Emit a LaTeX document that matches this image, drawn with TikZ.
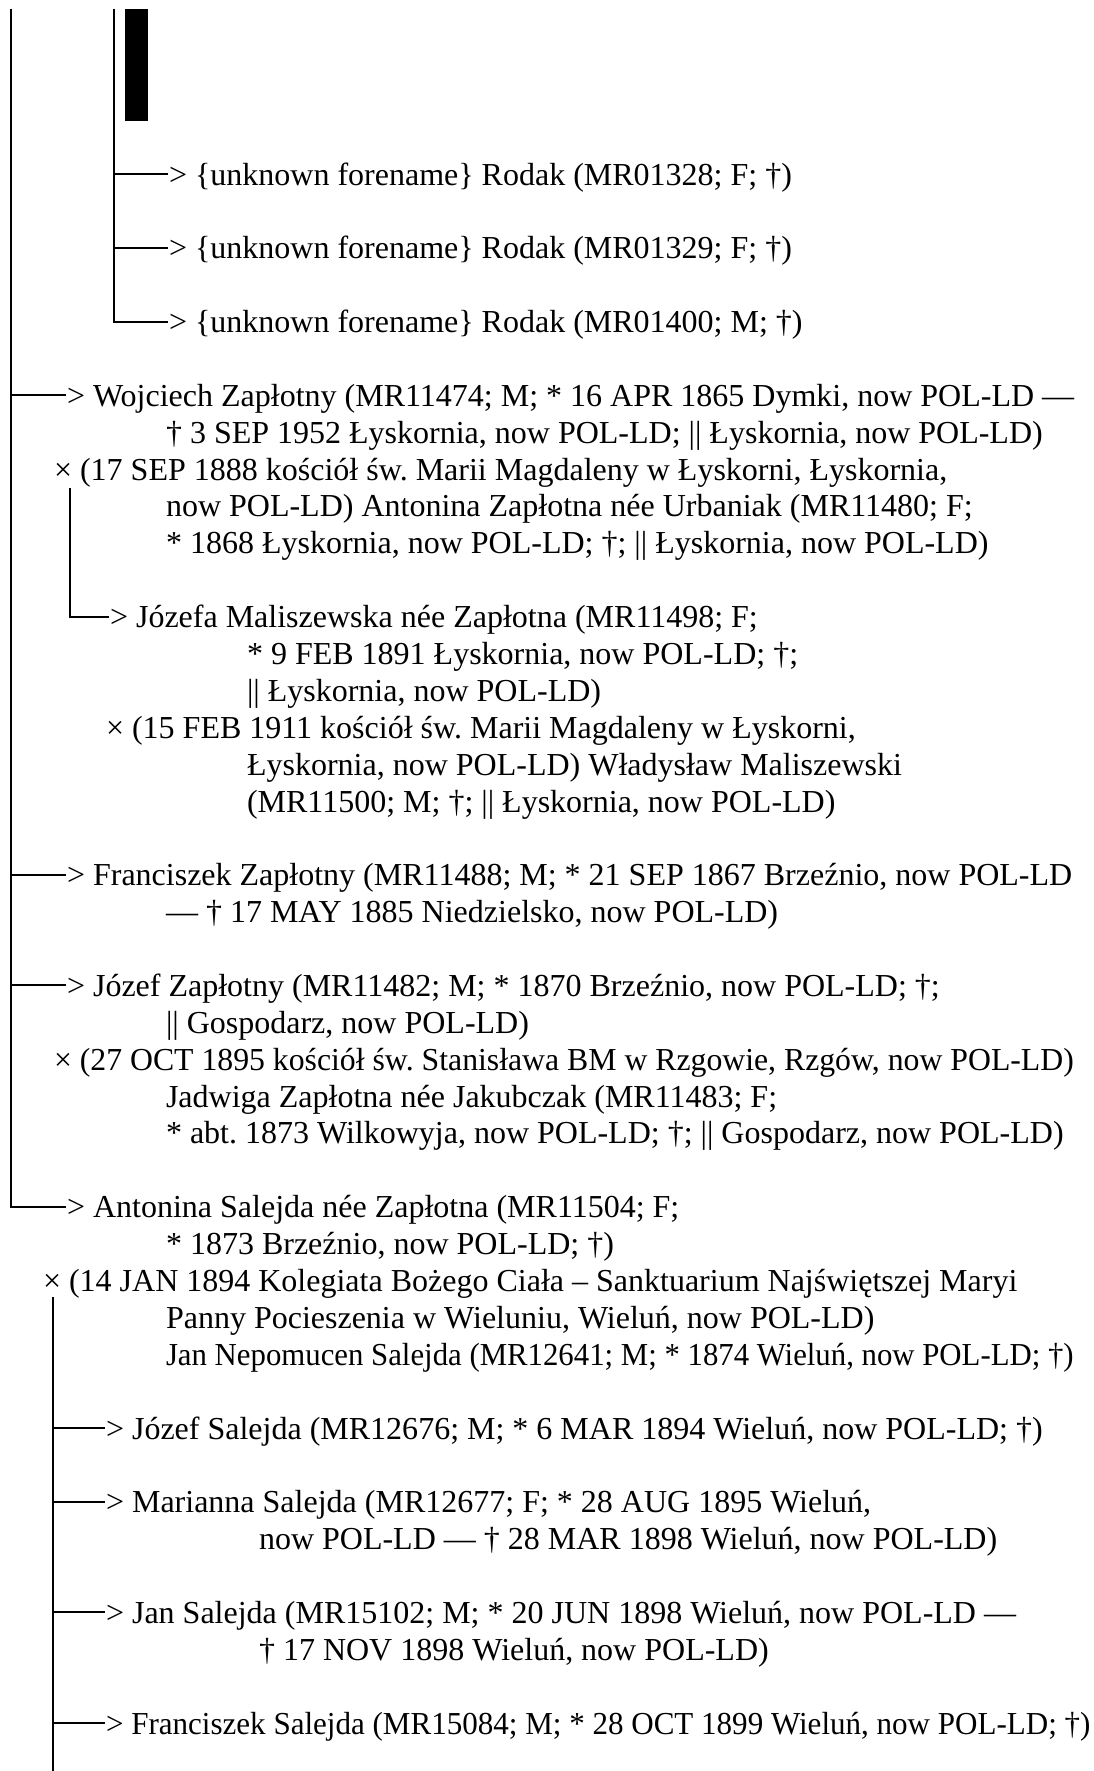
\documentclass[tikz,border=0pt]{standalone}
\usepackage{fontspec}
\usepackage{graphicx}
\setmainfont{Liberation Serif}
\frenchspacing
\begin{document}
\begin{tikzpicture}[x=0.5pt, y=-18.44pt, line width=1pt,
    entry/.style={anchor=west, inner sep=0pt, text height=12pt, text depth=1pt,
      font=\fontsize{16}{18.44}\selectfont}]
  \useasboundingbox (0,-4.718) rectangle (1093,43.30);
  \coordinate (top) at (11,-4.474);
  \coordinate (rodaktop) at (114,-4.474);
  \coordinate (wojx) at (70,8.5);
  \coordinate (antx) at (53,30.45);
  \coordinate (bottom) at (53,43.30);
  \fill (125,-4.474) rectangle (148,-1.437);

  \node[entry] (rodak1) at (168,0) {> \{unknown forename\} Rodak (MR01328; F; †)};
  \node[entry] (rodak2) at (168,2) {> \{unknown forename\} Rodak (MR01329; F; †)};
  \node[entry] (rodak3) at (168,4) {> \{unknown forename\} Rodak (MR01400; M; †)};

  \node[entry] (woj1) at (66,6) {> Wojciech Zapłotny (MR11474; M; * 16 APR 1865 Dymki, now POL-LD —};
  \node[entry] (woj2) at (165,7) {† 3 SEP 1952 Łyskornia, now POL-LD; || Łyskornia, now POL-LD)};
  \node[entry] (woj3) at (53,8) {× (17 SEP 1888 kościół św. Marii Magdaleny w Łyskorni, Łyskornia,};
  \node[entry] (woj4) at (165,9) {now POL-LD) Antonina Zapłotna née Urbaniak (MR11480; F;};
  \node[entry] (woj5) at (165,10) {* 1868 Łyskornia, now POL-LD; †; || Łyskornia, now POL-LD)};

  \node[entry] (joz1) at (109,12) {> Józefa Maliszewska née Zapłotna (MR11498; F;};
  \node[entry] (joz2) at (246,13) {* 9 FEB 1891 Łyskornia, now POL-LD; †;};
  \node[entry] (joz3) at (246,14) {|| Łyskornia, now POL-LD)};
  \node[entry] (joz4) at (105,15) {× (15 FEB 1911 kościół św. Marii Magdaleny w Łyskorni,};
  \node[entry] (joz5) at (246,16) {Łyskornia, now POL-LD) Władysław Maliszewski};
  \node[entry] (joz6) at (246,17) {(MR11500; M; †; || Łyskornia, now POL-LD)};

  \node[entry] (fra1) at (66,19) {> Franciszek Zapłotny (MR11488; M; * 21 SEP 1867 Brzeźnio, now POL-LD};
  \node[entry] (fra2) at (165,20) {— † 17 MAY 1885 Niedzielsko, now POL-LD)};

  \node[entry] (jzf1) at (66,22) {> Józef Zapłotny (MR11482; M; * 1870 Brzeźnio, now POL-LD; †;};
  \node[entry] (jzf2) at (165,23) {|| Gospodarz, now POL-LD)};
  \node[entry] (jzf3) at (53,24) {\scalebox{0.992}[1]{× (27 OCT 1895 kościół św. Stanisława BM w Rzgowie, Rzgów, now POL-LD)}};
  \node[entry] (jzf4) at (165,25) {Jadwiga Zapłotna née Jakubczak (MR11483; F;};
  \node[entry] (jzf5) at (165,26) {* abt. 1873 Wilkowyja, now POL-LD; †; || Gospodarz, now POL-LD)};

  \node[entry] (ant1) at (66,28) {> Antonina Salejda née Zapłotna (MR11504; F;};
  \node[entry] (ant2) at (165,29) {* 1873 Brzeźnio, now POL-LD; †)};
  \node[entry] (ant3) at (42,30) {× (14 JAN 1894 Kolegiata Bożego Ciała – Sanktuarium Najświętszej Maryi};
  \node[entry] (ant4) at (165,31) {Panny Pocieszenia w Wieluniu, Wieluń, now POL-LD)};
  \node[entry] (ant5) at (165,32) {\scalebox{0.962}[1]{Jan Nepomucen Salejda (MR12641; M; * 1874 Wieluń, now POL-LD; †)}};

  \node[entry] (sal1) at (105,34) {> Józef Salejda (MR12676; M; * 6 MAR 1894 Wieluń, now POL-LD; †)};
  \node[entry] (sal2) at (105,36) {> Marianna Salejda (MR12677; F; * 28 AUG 1895 Wieluń,};
  \node[entry] (sal2b) at (258,37) {now POL-LD — † 28 MAR 1898 Wieluń, now POL-LD)};
  \node[entry] (sal3) at (105,39) {> Jan Salejda (MR15102; M; * 20 JUN 1898 Wieluń, now POL-LD —};
  \node[entry] (sal3b) at (258,40) {† 17 NOV 1898 Wieluń, now POL-LD)};
  \node[entry] (sal4) at (105,42) {\scalebox{0.97}[1]{> Franciszek Salejda (MR15084; M; * 28 OCT 1899 Wieluń, now POL-LD; †)}};

  \draw (rodaktop) |- (rodak1.west);
  \draw (rodaktop) |- (rodak2.west);
  \draw (rodaktop) |- (rodak3.west);
  \draw (top) |- (woj1.west);
  \draw (top) |- (fra1.west);
  \draw (top) |- (jzf1.west);
  \draw (top) |- (ant1.west);
  \draw (wojx) |- (joz1.west);
  \draw (antx) |- (sal1.west);
  \draw (antx) |- (sal2.west);
  \draw (antx) |- (sal3.west);
  \draw (antx) |- (sal4.west);
  \draw (antx) -- (bottom);
\end{tikzpicture}
\end{document}
